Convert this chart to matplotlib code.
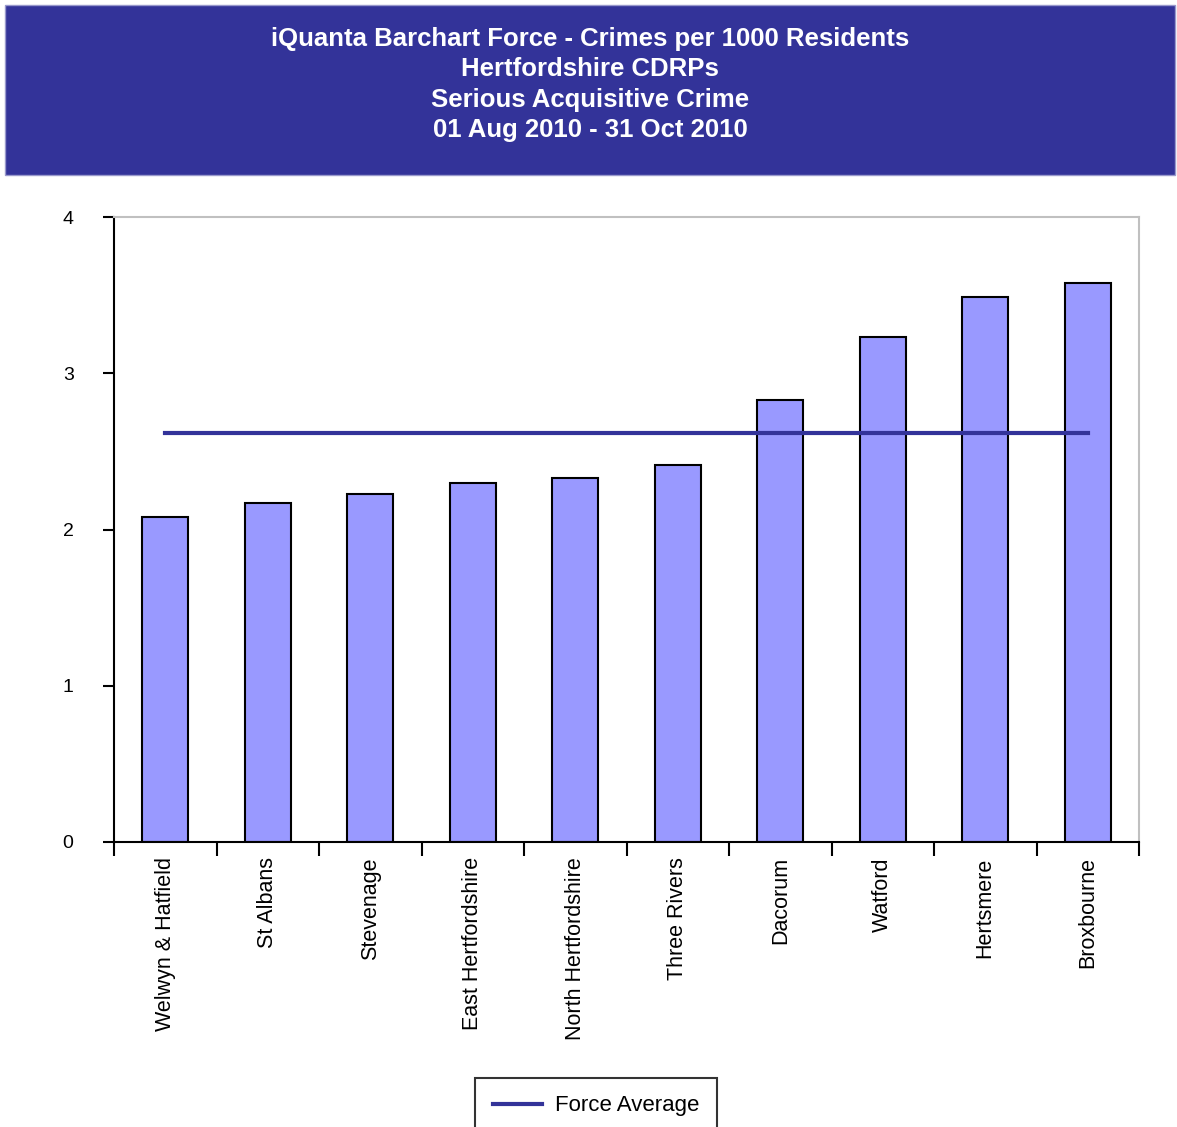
#!/usr/bin/env python
# coding: utf-8
import matplotlib
matplotlib.use("Agg")
import matplotlib.pyplot as plt
from matplotlib.patches import Rectangle

# data
areas = ["Welwyn & Hatfield", "St Albans", "Stevenage", "East Hertfordshire",
         "North Hertfordshire", "Three Rivers", "Dacorum", "Watford",
         "Hertsmere", "Broxbourne"]
crimes_per_1000 = [2.08, 2.17, 2.23, 2.30, 2.33, 2.41, 2.83, 3.23, 3.49, 3.58]
force_average = 2.62
y_ticks = [0, 1, 2, 3, 4]
title_lines = ["iQuanta Barchart Force - Crimes per 1000 Residents",
               "Hertfordshire CDRPs",
               "Serious Acquisitive Crime",
               "01 Aug 2010 - 31 Oct 2010"]

plt.rcParams['font.family'] = ['Liberation Sans', 'DejaVu Sans']

W, H = 1177, 1127
fig = plt.figure(figsize=(W / 100, H / 100), dpi=100)

# title banner
banner = Rectangle((5 / W, 1 - 175 / H), 1170 / W, 170 / H, transform=fig.transFigure,
                   facecolor="#333399", edgecolor="#9999cc", linewidth=1)
fig.patches.append(banner)
for i, line in enumerate(title_lines):
    fig.text(590 / W, 1 - (39 + i * 30.5) / H, line, ha="center", va="center",
             color="white", fontsize=18.5, fontweight="bold")

ax = fig.add_axes([114 / W, 1 - 842 / H, (1139 - 114) / W, (842 - 217) / H])
x = list(range(len(areas)))
ax.bar(x, crimes_per_1000, width=0.45, color="#9999ff", edgecolor="black",
       linewidth=1.5, zorder=2)
ax.plot([x[0], x[-1]], [force_average, force_average], color="#333399",
        linewidth=3, label="Force Average", zorder=3)

ax.set_xlim(-0.5, len(areas) - 0.5)
ax.set_ylim(0, 4)
ax.set_yticks(y_ticks)
ax.set_yticklabels([str(v) for v in y_ticks], fontsize=14)
ax.tick_params(axis="y", direction="out", length=8, width=1.5, pad=25)
for lbl in ax.get_yticklabels():
    lbl.set_horizontalalignment("center")

# ticks on category boundaries, labels at centres
ax.set_xticks([i - 0.5 for i in range(len(areas) + 1)])
ax.set_xticklabels([])
ax.set_xticks(x, minor=True)
ax.set_xticklabels(areas, minor=True, rotation=90, fontsize=15.5, va="top")
ax.tick_params(axis="x", which="major", direction="out", length=10, width=1.5)
ax.tick_params(axis="x", which="minor", length=0, pad=11)

for side in ("left", "bottom"):
    ax.spines[side].set_color("black")
    ax.spines[side].set_linewidth(1.5)
for side in ("top", "right"):
    ax.spines[side].set_color("#c0c0c0")
    ax.spines[side].set_linewidth(1.5)

leg = ax.legend(loc="center", bbox_to_anchor=(596 / W, 1 - 1106 / H),
                bbox_transform=fig.transFigure, fontsize=16, frameon=True,
                fancybox=False, edgecolor="black", handlelength=2.2,
                borderpad=0.8, handletextpad=0.6)
leg.get_frame().set_linewidth(1.5)

plt.savefig("out.png", dpi=100)
